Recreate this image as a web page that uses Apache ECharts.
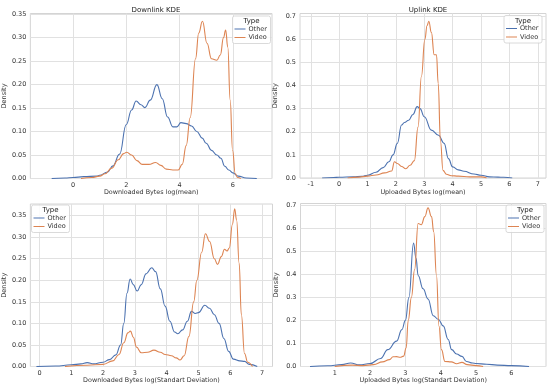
<!DOCTYPE html>
<html><head><meta charset="utf-8">
<script src="https://cdn.jsdelivr.net/npm/echarts@6/dist/echarts.min.js"></script>
<style>html,body{margin:0;padding:0;background:#fff}#c{width:550px;height:386px}</style>
</head><body><div id="c"></div>
<script>
// ---- Data ----
const seriesNames = ['Other', 'Video'];
const titles = ['Downlink KDE', 'Uplink KDE', '', ''];
const xNames = ['Downloaded Bytes log(mean)', 'Uploaded Bytes log(mean)', 'Downloaded Bytes log(Standart Deviation)', 'Uploaded Bytes log(Standart Deviation)'];
const yName = 'Density';

const xTicks1 = [0, 2, 4, 6];
const xTicks2 = [-1, 0, 1, 2, 3, 4, 5, 6, 7];
const xTicks3 = [0, 1, 2, 3, 4, 5, 6, 7];
const xTicks4 = [1, 2, 3, 4, 5, 6];
const yTicks1 = [0, 0.05, 0.10, 0.15, 0.20, 0.25, 0.30, 0.35];
const yTicks2 = [0, 0.1, 0.2, 0.3, 0.4, 0.5, 0.6, 0.7];
const yTicks3 = [0, 0.05, 0.10, 0.15, 0.20, 0.25, 0.30, 0.35];
const yTicks4 = [0, 0.1, 0.2, 0.3, 0.4, 0.5, 0.6, 0.7];

// Downlink log(mean)
const dlMeanOtherX = [-0.8, -0.3, 0, 0.4, 0.9, 1.0, 1.3, 1.5, 1.75, 2.0, 2.2, 2.37, 2.55, 2.7, 2.9, 3.15, 3.35, 3.55, 3.75, 3.9, 4.05, 4.25, 4.45, 4.65, 4.85, 5.0, 5.2, 5.4, 5.55, 5.7, 5.85, 6.0, 6.2, 6.5, 6.9];
const dlMeanOtherY = [0, 0.001, 0.002, 0.004, 0.005, 0.007, 0.014, 0.027, 0.052, 0.115, 0.146, 0.165, 0.157, 0.151, 0.167, 0.2, 0.17, 0.131, 0.11, 0.11, 0.119, 0.117, 0.112, 0.1, 0.086, 0.075, 0.06, 0.05, 0.043, 0.026, 0.018, 0.012, 0.005, 0.001, 0];
const dlMeanVideoX = [0.3, 0.7, 1.0, 1.2, 1.45, 1.7, 1.9, 2.02, 2.2, 2.4, 2.6, 2.85, 3.1, 3.3, 3.5, 3.75, 3.95, 4.1, 4.25, 4.4, 4.6, 4.72, 4.86, 5.03, 5.2, 5.4, 5.53, 5.65, 5.73, 5.81, 5.9, 5.99, 6.09, 6.18, 6.3];
const dlMeanVideoY = [0, 0.002, 0.005, 0.01, 0.022, 0.04, 0.053, 0.056, 0.05, 0.038, 0.03, 0.03, 0.034, 0.028, 0.02, 0.018, 0.018, 0.03, 0.07, 0.13, 0.255, 0.31, 0.335, 0.288, 0.255, 0.252, 0.263, 0.3, 0.316, 0.28, 0.167, 0.06, 0.01, 0.002, 0];

// Uplink log(mean)
const ulMeanOtherX = [-0.6, -0.2, 0, 0.5, 0.8, 1.0, 1.3, 1.55, 1.75, 1.9, 2.05, 2.2, 2.3, 2.45, 2.6, 2.75, 2.85, 3.0, 3.25, 3.5, 3.7, 3.85, 4.0, 4.2, 4.4, 4.75, 5.0, 5.3, 5.6, 5.8, 6.1];
const ulMeanOtherY = [0, 0.002, 0.003, 0.005, 0.007, 0.012, 0.025, 0.045, 0.07, 0.1, 0.15, 0.229, 0.24, 0.25, 0.275, 0.309, 0.3, 0.265, 0.207, 0.185, 0.15, 0.084, 0.048, 0.035, 0.029, 0.017, 0.012, 0.005, 0.004, 0.003, 0];
const ulMeanVideoX = [0.3, 0.7, 1.0, 1.3, 1.6, 1.85, 1.95, 2.05, 2.2, 2.35, 2.5, 2.65, 2.78, 2.9, 3.02, 3.1, 3.16, 3.25, 3.35, 3.43, 3.49, 3.57, 3.66, 3.78, 3.95, 4.2, 4.6, 5.0, 5.2];
const ulMeanVideoY = [0, 0.004, 0.008, 0.013, 0.022, 0.03, 0.07, 0.063, 0.05, 0.04, 0.055, 0.075, 0.22, 0.44, 0.6, 0.66, 0.678, 0.63, 0.533, 0.533, 0.41, 0.16, 0.033, 0.016, 0.01, 0.008, 0.005, 0.005, 0];

// Downlink log(std)
const dlStdOtherX = [-0.1, 0.5, 1.0, 1.3, 1.5, 1.7, 2.0, 2.2, 2.4, 2.55, 2.65, 2.75, 2.85, 2.95, 3.07, 3.2, 3.35, 3.53, 3.65, 3.8, 3.95, 4.1, 4.25, 4.35, 4.5, 4.65, 4.78, 4.9, 5.0, 5.2, 5.35, 5.5, 5.65, 5.8, 5.95, 6.1, 6.3, 6.45, 6.6, 6.85];
const dlStdOtherY = [0, 0.001, 0.004, 0.006, 0.009, 0.006, 0.01, 0.016, 0.027, 0.05, 0.1, 0.17, 0.203, 0.19, 0.175, 0.19, 0.215, 0.229, 0.22, 0.18, 0.14, 0.105, 0.08, 0.076, 0.085, 0.105, 0.128, 0.123, 0.125, 0.142, 0.135, 0.12, 0.1, 0.065, 0.035, 0.017, 0.013, 0.012, 0.005, 0];
const dlStdVideoX = [0.8, 1.5, 2.0, 2.3, 2.5, 2.65, 2.78, 2.86, 2.95, 3.05, 3.2, 3.4, 3.6, 3.8, 3.95, 4.15, 4.3, 4.42, 4.55, 4.7, 4.85, 4.95, 5.1, 5.22, 5.35, 5.5, 5.6, 5.72, 5.82, 5.9, 5.97, 6.07, 6.14, 6.2, 6.28, 6.35, 6.45, 6.55, 6.7];
const dlStdVideoY = [0, 0.003, 0.005, 0.013, 0.028, 0.055, 0.078, 0.082, 0.068, 0.045, 0.032, 0.033, 0.038, 0.033, 0.028, 0.025, 0.02, 0.015, 0.025, 0.07, 0.15, 0.2, 0.265, 0.308, 0.29, 0.25, 0.237, 0.255, 0.272, 0.268, 0.275, 0.33, 0.366, 0.34, 0.24, 0.12, 0.03, 0.01, 0];

// Uplink log(std)
const ulStdOtherX = [0.3, 0.8, 1.2, 1.45, 1.7, 2.0, 2.3, 2.5, 2.75, 2.9, 3.0, 3.1, 3.23, 3.3, 3.36, 3.5, 3.64, 3.79, 3.93, 4.07, 4.21, 4.31, 4.45, 4.6, 4.73, 4.9, 5.0, 5.3, 5.6, 6.0, 6.5];
const ulStdOtherY = [0, 0.003, 0.008, 0.015, 0.007, 0.013, 0.035, 0.073, 0.11, 0.16, 0.2, 0.3, 0.535, 0.47, 0.395, 0.337, 0.293, 0.22, 0.205, 0.176, 0.117, 0.073, 0.054, 0.044, 0.022, 0.015, 0.013, 0.01, 0.006, 0.004, 0];
const ulStdVideoX = [1.0, 1.5, 1.8, 2.1, 2.35, 2.55, 2.65, 2.75, 2.85, 2.95, 3.02, 3.08, 3.17, 3.26, 3.36, 3.45, 3.55, 3.64, 3.74, 3.8, 3.88, 3.95, 4.02, 4.12, 4.3, 4.45, 4.6, 4.75, 5.0, 5.2];
const ulStdVideoY = [0, 0.006, 0.004, 0.008, 0.02, 0.03, 0.042, 0.043, 0.04, 0.045, 0.08, 0.2, 0.3, 0.42, 0.62, 0.615, 0.65, 0.688, 0.65, 0.585, 0.395, 0.175, 0.073, 0.022, 0.02, 0.012, 0.018, 0.008, 0.004, 0];

// ---- Build chart ----
const BLUE = '#4c72b0', ORANGE = '#dd8452';
const FONT = 'DejaVu Sans';
const zip = (xs, ys) => xs.map((x, i) => [x, ys[i]]);

const panels = [
  { grid: { left: 30, top: 13.5, width: 242, height: 165 }, xMin: -1.6, xMax: 7.47, yMax: 0.3515, xTicks: xTicks1, yTicks: yTicks1, dec: 2,
    data: [zip(dlMeanOtherX, dlMeanOtherY), zip(dlMeanVideoX, dlMeanVideoY)], legend: { x: 232.5, y: 16 }, nameGap: 10 },
  { grid: { left: 300, top: 13.5, width: 246, height: 164.5 }, xMin: -1.38, xMax: 7.29, yMax: 0.7117, xTicks: xTicks2, yTicks: yTicks2, dec: 1,
    data: [zip(ulMeanOtherX, ulMeanOtherY), zip(ulMeanVideoX, ulMeanVideoY)], legend: { x: 504, y: 15.5 }, nameGap: 10 },
  { grid: { left: 30, top: 204, width: 242.5, height: 162.5 }, xMin: -0.29, xMax: 7.33, yMax: 0.377, xTicks: xTicks3, yTicks: yTicks3, dec: 2,
    data: [zip(dlStdOtherX, dlStdOtherY), zip(dlStdVideoX, dlStdVideoY)], legend: { x: 31.5, y: 205 }, nameGap: 10 },
  { grid: { left: 300.5, top: 203.5, width: 245.5, height: 163 }, xMin: 0.03, xMax: 6.98, yMax: 0.707, xTicks: xTicks4, yTicks: yTicks4, dec: 1,
    data: [zip(ulStdOtherX, ulStdOtherY), zip(ulStdVideoX, ulStdVideoY)], legend: { x: 506, y: 205 }, nameGap: 10 }
];

const option = { animation: false, backgroundColor: '#fff', grid: [], xAxis: [], yAxis: [], series: [], title: [], legend: [], graphic: [] };
const gridLine = '#e1e1e1';
panels.forEach((p, i) => {
  option.grid.push(Object.assign({ show: true, borderColor: '#d4d4d4', borderWidth: 1, backgroundColor: 'transparent' }, p.grid));
  option.xAxis.push({
    type: 'value', gridIndex: i, min: p.xMin, max: p.xMax,
    name: xNames[i], nameLocation: 'middle', nameGap: p.nameGap,
    nameTextStyle: { fontFamily: FONT, fontSize: 6.4, color: '#333' },
    axisLine: { show: false }, axisTick: { show: false, customValues: p.xTicks },
    axisLabel: { customValues: p.xTicks, fontFamily: FONT, fontSize: 6.5, color: '#333', margin: 3, formatter: v => String(Math.round(v)) },
    splitLine: { show: true, lineStyle: { color: gridLine, width: 1 } }
  });
  option.yAxis.push({
    type: 'value', gridIndex: i, min: 0, max: p.yMax,
    name: yName, nameLocation: 'middle', nameGap: 21,
    nameTextStyle: { fontFamily: FONT, fontSize: 6.6, color: '#333' },
    axisLine: { show: false }, axisTick: { show: false, customValues: p.yTicks },
    axisLabel: { customValues: p.yTicks, fontFamily: FONT, fontSize: 6.5, color: '#333', margin: 4, formatter: v => v.toFixed(p.dec) },
    splitLine: { show: true, lineStyle: { color: gridLine, width: 1 } }
  });
  if (titles[i]) {
    option.title.push({ text: titles[i], left: p.grid.left + p.grid.width / 2, top: 2, textAlign: 'center',
      textStyle: { fontFamily: FONT, fontSize: 7, fontWeight: 'normal', color: '#222' } });
  }
  seriesNames.forEach((nm, k) => {
    option.series.push({
      type: 'line', name: nm, xAxisIndex: i, yAxisIndex: i, data: p.data[k],
      showSymbol: false, symbol: 'none', smooth: 0.45, smoothMonotone: 'x',
      lineStyle: { color: k === 0 ? BLUE : ORANGE, width: 1.1 }, itemStyle: { color: k === 0 ? BLUE : ORANGE }, z: 2 + k
    });
  });
  const lx = p.legend.x, ly = p.legend.y;
  option.graphic.push({ type: 'rect', z: 5, shape: { x: lx, y: ly, width: 38, height: 27.5, r: 2 },
    style: { fill: 'rgba(255,255,255,0.85)', stroke: '#d0d0d0', lineWidth: 0.8 } });
  option.graphic.push({ type: 'text', z: 6, x: lx + 19, y: ly + 2, style: { text: 'Type', fontFamily: FONT, fontSize: 7, fill: '#222', align: 'center', verticalAlign: 'top' } });
  option.legend.push({
    left: lx + 2, top: ly + 9.5, orient: 'vertical', z: 7, padding: 0, itemGap: 1.5,
    itemWidth: 11, itemHeight: 7, icon: 'path://M0,3 L11,3 L11,4 L0,4 Z',
    data: seriesNames.map((nm, k) => ({ name: nm, itemStyle: { color: k === 0 ? BLUE : ORANGE } })),
    textStyle: { fontFamily: FONT, fontSize: 6.5, color: '#333', padding: [0, 0, 0, -2] }, selectedMode: false
  });
});

const chart = echarts.init(document.getElementById('c'), null, { renderer: 'canvas' });
chart.setOption(option);
</script>
</body></html>
